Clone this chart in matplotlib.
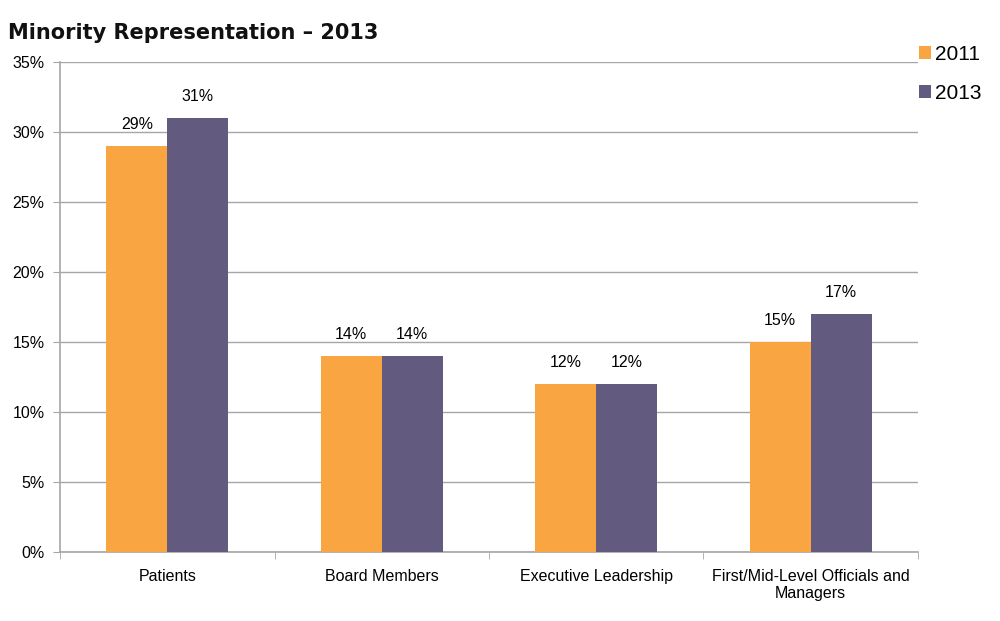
import numpy as np
import matplotlib.pyplot as plt
from matplotlib.ticker import FuncFormatter, FixedLocator

categories = ["Patients", "Board Members", "Executive Leadership",
              "First/Mid-Level Officials and\nManagers"]
series_names = ["2011", "2013"]
values_2011 = [29, 14, 12, 15]
values_2013 = [31, 14, 12, 17]

orange = "#F9A541"
purple = "#635A80"
grid_gray = "#A6A6A6"

plt.rcParams["font.family"] = ["Liberation Sans", "DejaVu Sans"]

fig = plt.figure(figsize=(10, 6.21), dpi=100)
ax = fig.add_axes([0.06, 0.111, 0.858, 0.789])

x = np.arange(len(categories))
w = 0.284
b1 = ax.bar(x - w / 2, values_2011, w, color=orange, label=series_names[0], zorder=3)
b2 = ax.bar(x + w / 2, values_2013, w, color=purple, label=series_names[1], zorder=3)

for bars, vals in [(b1, values_2011), (b2, values_2013)]:
    for rect, v in zip(bars, vals):
        ax.text(rect.get_x() + rect.get_width() / 2, v + 1.0, f"{v}%",
                ha="center", va="bottom", fontsize=11.5, color="black")

ax.set_xlim(-0.5, len(categories) - 0.5)
ax.set_ylim(0, 35)
ax.set_yticks(np.arange(0, 36, 5))
ax.yaxis.set_major_formatter(FuncFormatter(lambda v, p: f"{int(v)}%"))
ax.yaxis.grid(True, color=grid_gray, linewidth=1.0, zorder=0)
ax.set_axisbelow(True)

ax.set_xticks(x)
ax.set_xticklabels(categories, fontsize=11.5)
ax.xaxis.set_minor_locator(FixedLocator(np.arange(-0.5, len(categories), 1.0)))
ax.tick_params(axis="x", which="major", length=0, pad=12)
ax.tick_params(axis="x", which="minor", length=5, color=grid_gray, direction="out")
ax.tick_params(axis="y", length=5, color=grid_gray, labelsize=11.5, pad=6)

for s in ["top", "right"]:
    ax.spines[s].set_visible(False)
for s in ["left", "bottom"]:
    ax.spines[s].set_color(grid_gray)
    ax.spines[s].set_linewidth(1.2)

fig.text(0.008, 0.947, "Minority Representation \u2013 2013", fontsize=15,
         fontweight="bold", family=["DejaVu Sans"], color="#111111",
         ha="left", va="center")

leg = fig.legend(handles=[b1, b2], labels=series_names, loc="upper left",
                 bbox_to_anchor=(0.9, 0.958), frameon=False, fontsize=15,
                 handlelength=0.6, handleheight=0.6, handletextpad=0.2,
                 labelspacing=0.95)

fig.savefig("out.png", dpi=100)
